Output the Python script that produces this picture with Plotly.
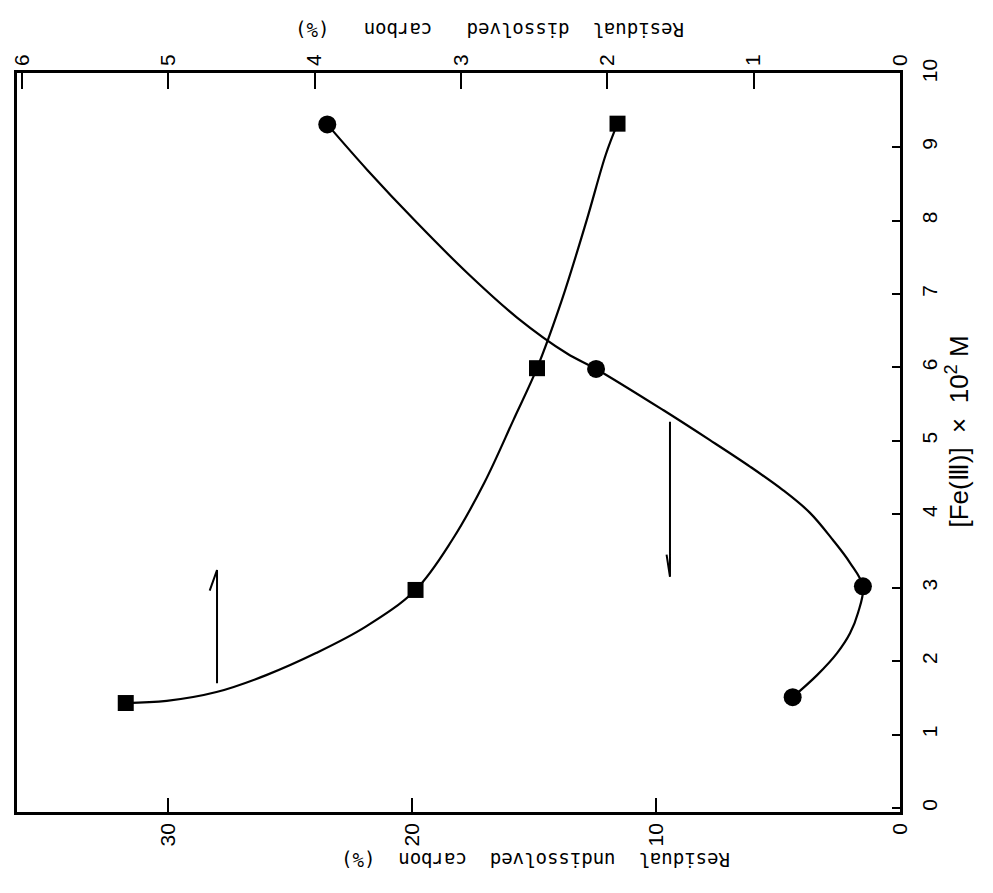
import plotly.graph_objects as go

# ---- data read from the (rotated) picture ----
# [Fe(III)] x 10^2 M
fe_undissolved = [1.51, 3.02, 5.98, 9.31]
undissolved_carbon = [4.4, 1.52, 12.46, 23.48]          # circles, %

fe_dissolved = [1.43, 2.97, 5.99, 9.32]
dissolved_carbon = [5.29, 3.31, 2.48, 1.93]             # squares, %

# points
curve_u_fe = [1.51, 1.81, 2.11, 2.38, 2.66, 3.02, 3.34, 3.65, 4.02, 4.33, 4.65, 5.01, 5.42,
              5.98, 6.19, 6.68, 7.29, 7.97, 8.69, 9.31]
curve_u_val = [4.4, 3.40, 2.58, 2.05, 1.72, 1.52, 2.05, 2.75, 3.69, 4.80, 6.15, 7.79, 9.71,
               12.46, 13.65, 15.70, 17.75, 19.80, 21.84, 23.48]

curve_d_fe = [1.43, 1.46, 1.58, 1.81, 2.11, 2.47, 2.97, 3.65, 4.43, 5.29, 5.99, 6.92, 8.01, 8.90, 9.32]
curve_d_val = [5.29, 5.01, 4.67, 4.33, 3.99, 3.65, 3.31, 3.06, 2.84, 2.64, 2.48, 2.31, 2.14, 2.01, 1.93]

# arrows pointing to each series' axis
arrow_d_u = [28.0, 28.0, 28.3]
arrow_d_fe = [1.70, 3.24, 2.96]
arrow_u_u = [9.43, 9.43, 9.57]
arrow_u_fe = [5.26, 3.15, 3.45]

fe_ticks = list(range(0, 11))
undissolved_ticks = [0, 10, 20, 30]
dissolved_ticks = [0, 1, 2, 3, 4, 5, 6]

title_fe = "[Fe(Ⅲ)]  ×  10<sup>2</sup> M"
title_undissolved = "Residual  undissolved  carbon  (%)"
title_dissolved = "Residual  dissolved   carbon   (%)"

TICKFONT = dict(family="Liberation Sans Narrow, Liberation Sans, Arial", size=21, color="black")
TITLEFONT = dict(family="DejaVu Sans Mono, monospace", size=19, color="black")

fig = go.Figure()

fig.add_trace(go.Scatter(x=curve_u_val, y=curve_u_fe, mode="lines",
                         line=dict(color="black", width=2.2, shape="spline", smoothing=1.0),
                         xaxis="x", yaxis="y", showlegend=False, hoverinfo="skip"))
fig.add_trace(go.Scatter(x=undissolved_carbon, y=fe_undissolved, mode="markers",
                         marker=dict(symbol="circle", size=18, color="black"),
                         xaxis="x", yaxis="y", showlegend=False))

fig.add_trace(go.Scatter(x=curve_d_val, y=curve_d_fe, mode="lines",
                         line=dict(color="black", width=2.2, shape="spline", smoothing=1.0),
                         xaxis="x2", yaxis="y", showlegend=False, hoverinfo="skip"))
fig.add_trace(go.Scatter(x=dissolved_carbon, y=fe_dissolved, mode="markers",
                         marker=dict(symbol="square", size=16, color="black"),
                         xaxis="x2", yaxis="y", showlegend=False))

fig.add_trace(go.Scatter(x=arrow_d_u, y=arrow_d_fe, mode="lines",
                         line=dict(color="black", width=2),
                         xaxis="x", yaxis="y", showlegend=False, hoverinfo="skip"))
fig.add_trace(go.Scatter(x=arrow_u_u, y=arrow_u_fe, mode="lines",
                         line=dict(color="black", width=2),
                         xaxis="x", yaxis="y", showlegend=False, hoverinfo="skip"))

# the page body has an 8px margin: the figure is sized to fit inside it
fig.update_layout(
    width=977, height=877,
    margin=dict(l=9, r=85, t=65, b=73),
    paper_bgcolor="white", plot_bgcolor="white",
    xaxis=dict(range=[36.2, 0], tickvals=undissolved_ticks, ticks="inside", ticklen=14,
               tickwidth=2, tickcolor="black", showline=True, linewidth=2.5, linecolor="black",
               showgrid=False, zeroline=False, tickangle=-90, tickfont=TICKFONT,
               automargin=False),
    xaxis2=dict(range=[6.033, 0], tickvals=dissolved_ticks, ticks="inside", ticklen=16,
                tickwidth=2, tickcolor="black", showline=True, linewidth=2.5, linecolor="black",
                showgrid=False, zeroline=False, tickangle=-90, tickfont=TICKFONT,
                overlaying="x", side="top", anchor="y", automargin=False),
    yaxis=dict(range=[-0.054, 10.01], tickvals=fe_ticks, ticks="inside", ticklen=8,
               tickwidth=2, tickcolor="black", showline=True, linewidth=2.5, linecolor="black",
               mirror=True, showgrid=False, zeroline=False, side="right", tickangle=-90,
               tickfont=TICKFONT, automargin=False, ticklabelstandoff=9),
)

fig.add_annotation(text=title_dissolved, xref="paper", yref="paper",
                   x=(490 - 17) / 883, y=(812 - 17) / 739, showarrow=False,
                   textangle=180, font=TITLEFONT)
fig.add_annotation(text=title_undissolved, xref="paper", yref="paper",
                   x=(536 - 17) / 883, y=(812 - 873) / 739, showarrow=False,
                   textangle=180, font=TITLEFONT)
fig.add_annotation(text=title_fe, xref="paper", yref="paper",
                   x=(976 - 17) / 883, y=(812 - 432) / 739, showarrow=False,
                   textangle=-90, font=dict(family="Liberation Sans, Arial", size=26, color="black"))

fig.write_html("out.html")
